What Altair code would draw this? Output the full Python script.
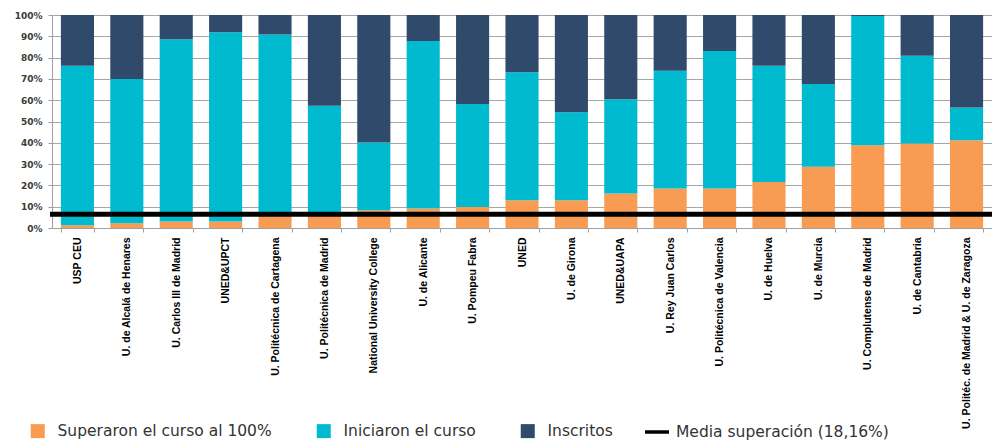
import altair as alt
import pandas as pd

universidades = [
    "USP CEU",
    "U. de Alcalá de Henares",
    "U. Carlos III de Madrid",
    "UNED&UPCT",
    "U. Politécnica de Cartagena",
    "U. Politécnica de Madrid",
    "National University College",
    "U. de Alicante",
    "U. Pompeu Fabra",
    "UNED",
    "U. de Girona",
    "UNED&UAPA",
    "U. Rey Juan Carlos",
    "U. Politécnica de Valencia",
    "U. de Huelva",
    "U. de Murcia",
    "U. Complutense de Madrid",
    "U. de Cantabria",
    "U. Politéc. de Madrid & U. de Zaragoza",
]
# cumulative shares (%)
superaron = [1.3, 2.2, 3.0, 3.0, 5.5, 6.0, 8.3, 9.1, 9.9, 13.0, 13.0, 16.2, 18.5, 18.5, 21.6, 28.7, 38.9, 39.7, 41.2]
iniciaron = [76.2, 69.9, 88.6, 91.9, 90.9, 57.4, 40.1, 87.8, 58.2, 73.1, 54.3, 60.5, 73.8, 83.1, 76.2, 67.6, 99.5, 80.9, 56.6]
inscritos = [100.0] * 19

series = ["Superaron el curso al 100%", "Iniciaron el curso", "Inscritos"]
colores = ["#F79C52", "#00BACF", "#2F4A6A"]

media_label = "Media superación (18,16%)"
media_pos = 6.5

y_ticks = list(range(0, 101, 10))

rows = []
for i, u in enumerate(universidades):
    rows.append({"u": u, "serie": series[0], "v": superaron[i], "o": 0})
    rows.append({"u": u, "serie": series[1], "v": iniciaron[i] - superaron[i], "o": 1})
    rows.append({"u": u, "serie": series[2], "v": inscritos[i] - iniciaron[i], "o": 2})
df = pd.DataFrame(rows)

media_df = pd.DataFrame({"y": [media_pos], "serie": [media_label]})

W, H = 940, 213

y_scale = alt.Scale(domain=[0, 100], nice=False)
y_axis = alt.Axis(values=y_ticks, labelExpr="datum.value + '%'",
                  labelOverlap=False, labelSeparation=0,
                  labelFont="DejaVu Sans", labelFontWeight="bold", labelFontSize=9,
                  labelColor="#3A3A3A", labelPadding=6, tickSize=4,
                  tickColor="#A0A0A0", domainColor="#A0A0A0",
                  grid=True, gridColor="#A6A6A6", gridWidth=1.2)

bars = alt.Chart(df).mark_bar().encode(
    x=alt.X("u:N", sort=universidades, title=None,
            scale=alt.Scale(paddingInner=0.33, paddingOuter=0.18),
            axis=alt.Axis(labelAngle=-90, labelFont="Liberation Sans", labelFontWeight="bold",
                          labelFontSize=10.5, labelColor="#000000", labelPadding=5,
                          labelLimit=260, tickBand="extent", tickSize=4,
                          tickColor="#A0A0A0", domainColor="#A0A0A0", grid=False)),
    y=alt.Y("v:Q", stack="zero", title=None, scale=y_scale, axis=y_axis),
    color=alt.Color("serie:N", scale=alt.Scale(domain=series, range=colores),
                    legend=alt.Legend(title=None, orient="none", direction="horizontal",
                                      legendX=-22, legendY=408, symbolType="square",
                                      symbolSize=196, symbolStrokeWidth=0,
                                      labelFont="DejaVu Sans", labelFontSize=15.5,
                                      labelColor="#333333", labelOffset=12, labelLimit=400,
                                      columnPadding=44)),
    order=alt.Order("o:Q"),
)

media = alt.Chart(media_df).mark_rule(strokeWidth=5).encode(
    y=alt.Y("y:Q", title=None, scale=y_scale, axis=y_axis),
    x=alt.value(-2),
    x2=alt.value(W + 10),
    stroke=alt.Stroke("serie:N", scale=alt.Scale(domain=[media_label], range=["#000000"]),
                      legend=alt.Legend(title=None, orient="none", legendX=591, legendY=403,
                                        symbolType="stroke", symbolSize=576,
                                        symbolStrokeWidth=3.5, labelLimit=400,
                                        labelFont="DejaVu Sans", labelFontSize=15.5,
                                        labelColor="#333333", labelOffset=5)),
)

chart = alt.layer(bars, media).properties(
    width=W, height=H,
    autosize=alt.AutoSizeParams(type="none"),
    padding={"left": 44, "top": 7, "right": 0, "bottom": 212},
).configure_view(stroke=None).configure_axis(labelOverlap=False).configure(background="white")

chart.save("out.html", embed_options={"renderer": "svg", "actions": False})
